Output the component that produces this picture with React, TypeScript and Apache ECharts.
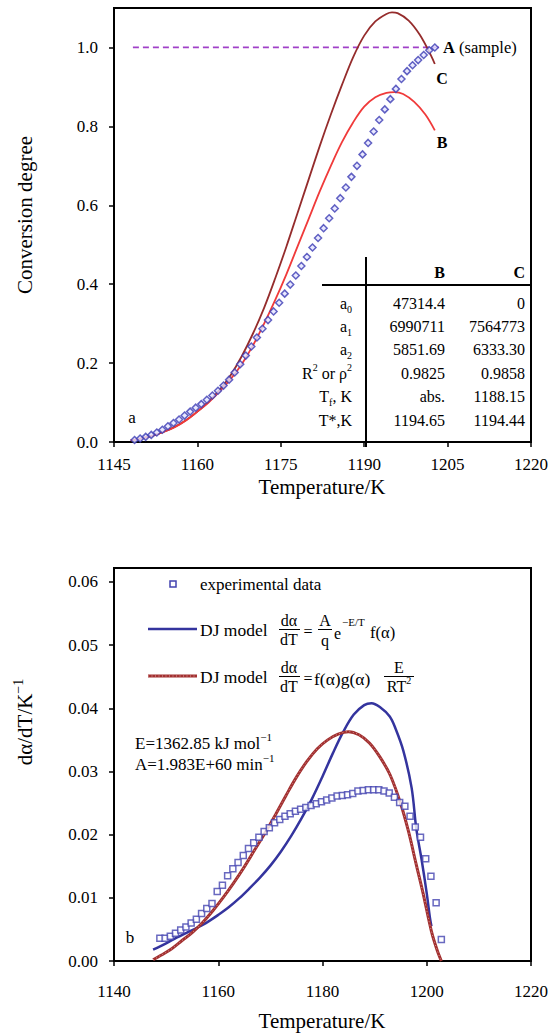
import React, { useEffect, useRef } from 'react';
import * as echarts from 'echarts';

// ---------- top panel (a) ----------
const topTicksX = [1145, 1160, 1175, 1190, 1205, 1220];
const topTicksY = [0, 0.2, 0.4, 0.6, 0.8, 1.0];

const sampleT = [1148.7, 1149.7, 1150.7, 1151.7, 1152.7, 1153.7, 1154.7, 1155.7, 1156.7, 1157.7,
  1158.7, 1159.7, 1160.7, 1161.7, 1162.7, 1163.7, 1164.7, 1165.7, 1166.7, 1167.7,
  1168.7, 1169.7, 1170.7, 1171.7, 1172.7, 1173.7, 1174.7, 1175.7, 1176.7, 1177.7,
  1178.7, 1179.7, 1180.7, 1181.7, 1182.7, 1183.7, 1184.7, 1185.7, 1186.7, 1187.7,
  1188.7, 1189.7, 1190.7, 1191.7, 1192.7, 1193.7, 1194.7, 1195.7, 1196.7, 1197.7,
  1198.7, 1199.7, 1200.7, 1201.7, 1202.7];
const sampleAlpha = [0.005, 0.009, 0.013, 0.018, 0.024, 0.031, 0.04, 0.048, 0.057, 0.067,
  0.077, 0.087, 0.096, 0.107, 0.118, 0.13, 0.143, 0.158, 0.176, 0.197,
  0.219, 0.242, 0.265, 0.287, 0.309, 0.331, 0.353, 0.376, 0.399, 0.422,
  0.446, 0.469, 0.493, 0.517, 0.542, 0.567, 0.592, 0.618, 0.645, 0.672,
  0.70, 0.729, 0.758, 0.787, 0.816, 0.843, 0.869, 0.895, 0.92, 0.94,
  0.955, 0.968, 0.981, 0.993, 1.0];

const modelBT = [1148, 1150, 1152, 1154, 1156, 1158, 1160, 1162, 1164, 1166, 1168, 1170, 1172, 1174,
  1176, 1178, 1180, 1182, 1184, 1186, 1188, 1190, 1192, 1194, 1195.5, 1197, 1199, 1201, 1202.7];
const modelB = [0.004, 0.009, 0.016, 0.026, 0.038, 0.055, 0.077, 0.1, 0.128, 0.16, 0.198, 0.245, 0.3, 0.36,
  0.425, 0.495, 0.565, 0.635, 0.70, 0.76, 0.81, 0.85, 0.874, 0.885, 0.887, 0.882, 0.862, 0.83, 0.79];

const modelCT = [1148, 1150, 1152, 1154, 1156, 1158, 1160, 1162, 1164, 1166, 1168, 1170, 1172, 1174,
  1176, 1178, 1180, 1182, 1184, 1186, 1188, 1190, 1192, 1194, 1195, 1196, 1198, 1200, 1202, 1202.7];
const modelC = [0.004, 0.009, 0.016, 0.026, 0.039, 0.056, 0.077, 0.102, 0.132, 0.17, 0.218, 0.275, 0.34, 0.415,
  0.495, 0.58, 0.665, 0.75, 0.83, 0.905, 0.975, 1.03, 1.066, 1.085, 1.089, 1.087, 1.068, 1.032, 0.98, 0.958];

const refLineT = [1148.4, 1203.6];
const refLineAlpha = [1.0, 1.0];

const tableHeader = ['B', 'C'];
const tableRowLabels = ['{m|a}{sub|0}', '{m|a}{sub|1}', '{m|a}{sub|2}', '{m|R}{sup|2}{m| or ρ}{sup|2}', '{m|T}{sub|f}{m|, K}', '{m|T*,K}'];
const tableColB = ['47314.4', '6990711', '5851.69', '0.9825', 'abs.', '1194.65'];
const tableColC = ['0', '7564773', '6333.30', '0.9858', '1188.15', '1194.44'];

// ---------- bottom panel (b) ----------
const bottomTicksX = [1140, 1160, 1180, 1200, 1220];
const bottomTicksY = [0, 0.01, 0.02, 0.03, 0.04, 0.05, 0.06];

const expT = [1148.8, 1149.8, 1150.8, 1151.8, 1152.8, 1153.8, 1154.8, 1155.8, 1156.8, 1157.8,
  1158.8, 1159.8, 1160.8, 1161.8, 1162.8, 1163.8, 1164.8, 1165.8, 1166.8, 1167.8,
  1168.8, 1169.8, 1170.8, 1171.8, 1172.8, 1173.8, 1174.8, 1175.8, 1176.8, 1177.8,
  1178.8, 1179.8, 1180.8, 1181.8, 1182.8, 1183.8, 1184.8, 1185.8, 1186.8, 1187.8,
  1188.8, 1189.8, 1190.8, 1191.8, 1192.8, 1193.8, 1194.8, 1195.8, 1196.8, 1197.8,
  1198.8, 1199.8, 1200.8, 1201.8, 1202.8];
const expRate = [0.0036, 0.0036, 0.0039, 0.0044, 0.0049, 0.0054, 0.006, 0.0066, 0.0075, 0.0083,
  0.0091, 0.011, 0.012, 0.0135, 0.0146, 0.0156, 0.0167, 0.0178, 0.0187, 0.0196,
  0.0205, 0.0211, 0.0219, 0.0224, 0.0229, 0.0233, 0.0237, 0.024, 0.0243, 0.0246,
  0.0249, 0.0252, 0.0255, 0.0258, 0.0261, 0.0262, 0.0263, 0.0265, 0.0269, 0.027,
  0.0271, 0.0271, 0.0271, 0.0269, 0.0266, 0.0259, 0.0251, 0.0245, 0.0229, 0.0212,
  0.0196, 0.0162, 0.0134, 0.0092, 0.0034];

const djAT = [1147.5, 1150, 1152, 1154, 1156, 1158, 1160, 1162, 1164, 1166, 1168, 1170, 1172, 1174, 1176,
  1178, 1180, 1182, 1184, 1186, 1188, 1189.4, 1191, 1192.9, 1194, 1195.5, 1197.1, 1198, 1199, 1200, 1200.6, 1200.9];
const djARate = [0.0018, 0.0028, 0.0037, 0.0045, 0.0053, 0.0062, 0.0073, 0.0085, 0.0099, 0.0115, 0.0132, 0.0151,
  0.0173, 0.0198, 0.0226, 0.0257, 0.0292, 0.0329, 0.0363, 0.039, 0.0405, 0.0408, 0.0402, 0.0387, 0.0368,
  0.0333, 0.0274, 0.0209, 0.0161, 0.0107, 0.0069, 0.0055];

const djBT = [1147.5, 1149, 1151, 1153, 1155, 1157, 1159, 1161, 1163, 1165, 1167, 1169, 1171, 1173, 1175, 1177,
  1179, 1181, 1183, 1185, 1187, 1189, 1191, 1193, 1195, 1196.5, 1198, 1199.3, 1200.9, 1202, 1202.8];
const djBRate = [0.0002, 0.0009, 0.0019, 0.0032, 0.0045, 0.0061, 0.008, 0.0101, 0.0124, 0.0149, 0.0176, 0.0203,
  0.0232, 0.0262, 0.0291, 0.0316, 0.0336, 0.035, 0.0359, 0.0363, 0.0358, 0.0345, 0.0323, 0.0294, 0.0249,
  0.0205, 0.0152, 0.0107, 0.0047, 0.0017, 0.0];

// ---------- helpers ----------
const F = 'Liberation Serif, serif';
const zip = (xs: number[], ys: number[]) => xs.map((x, i) => [x, ys[i]]);

const rich = (size = 17) => {
  const s = Math.round(size * 0.65);
  return {
    m: { fontFamily: F, fontSize: size, lineHeight: size + 6, fill: '#000' },
    b: { fontFamily: F, fontSize: size, lineHeight: size + 6, fontWeight: 'bold', fill: '#000' },
    sub: { fontFamily: F, fontSize: s, lineHeight: s, verticalAlign: 'bottom', fill: '#000' },
    sup: { fontFamily: F, fontSize: s, lineHeight: s, verticalAlign: 'top', fill: '#000' },
  };
};

const txt = (x: number, y: number, text: string, o: any = {}) => ({
  type: 'text',
  x,
  y,
  rotation: o.rot ?? 0,
  silent: true,
  z: 10,
  style: {
    text,
    fontFamily: F,
    fontSize: o.size ?? 17,
    fontWeight: o.bold ? 'bold' : 'normal',
    fill: '#000',
    align: o.align ?? 'left',
    verticalAlign: 'middle',
    rich: o.rich ? rich(o.size ?? 17) : undefined,
  },
});

const seg = (x1: number, y1: number, x2: number, y2: number, stroke = '#000', lineWidth = 2, extra: any = {}) => ({
  type: 'line',
  silent: true,
  z: 10,
  shape: { x1, y1, x2, y2 },
  style: { stroke, lineWidth, ...extra },
});

const axisCommon = {
  axisLine: { show: true, onZero: false, lineStyle: { color: '#000', width: 2 } },
  splitLine: { show: false },
};

const tickLabel = (margin: number, fmt: (v: number) => string, custom: number[]) => ({
  customValues: custom,
  formatter: fmt,
  fontFamily: F,
  fontSize: 17,
  color: '#000',
  margin,
});

const tick = (custom: number[]) => ({
  show: true,
  customValues: custom,
  length: 5,
  lineStyle: { color: '#000', width: 1.5 },
});

function buildGraphic() {
  const g: any[] = [];
  // axis titles
  g.push(txt(25, 215, 'Conversion degree', { size: 21, rot: Math.PI / 2, align: 'center' }));
  g.push(txt(322, 487, 'Temperature/K', { size: 21, align: 'center' }));
  g.push(txt(25, 722, '{m|dα/dT/K}{sup|−1}', { size: 21, rot: Math.PI / 2, align: 'center', rich: true }));
  g.push(txt(322, 1021, 'Temperature/K', { size: 21, align: 'center' }));

  // panel a annotations
  g.push(txt(443, 47, '{b|A}{m| (sample)}', { size: 16.5, rich: true }));
  g.push(txt(442, 78, 'C', { size: 16, bold: true, align: 'center' }));
  g.push(txt(442, 142, 'B', { size: 16, bold: true, align: 'center' }));
  g.push(txt(132, 417, 'a', { size: 17, align: 'center' }));

  // table
  g.push(seg(366, 257, 366, 447));
  g.push(seg(322, 285, 531, 285));
  g.push(txt(445, 272, tableHeader[0], { size: 16, bold: true, align: 'right' }));
  g.push(txt(525, 272, tableHeader[1], { size: 16, bold: true, align: 'right' }));
  const rowY0 = 303;
  const rowStep = 23.4;
  tableRowLabels.forEach((lab, i) => {
    const y = rowY0 + i * rowStep;
    g.push(txt(352, y, lab, { size: 16, align: 'right', rich: true }));
    g.push(txt(445, y, tableColB[i], { size: 16, align: 'right' }));
    g.push(txt(525, y, tableColC[i], { size: 16, align: 'right' }));
  });

  // panel b legend
  g.push({
    type: 'rect', silent: true, z: 10,
    shape: { x: 170, y: 581, width: 6, height: 6 },
    style: { fill: '#fff', stroke: '#4343b0', lineWidth: 1.5 },
  });
  g.push(txt(200, 584, 'experimental data', { size: 17 }));

  // row 1
  g.push(seg(148, 629, 197, 629, '#34349e', 2.5));
  g.push(txt(200, 630, 'DJ model', { size: 17.5 }));
  g.push(txt(289, 620, 'dα', { size: 16, align: 'center' }));
  g.push(txt(289, 639, 'dT', { size: 16, align: 'center' }));
  g.push(seg(279, 629.5, 300, 629.5, '#000', 1));
  g.push(txt(308, 631, '=', { size: 16, align: 'center' }));
  g.push(txt(325, 620, 'A', { size: 16, align: 'center' }));
  g.push(txt(325, 640, 'q', { size: 16, align: 'center' }));
  g.push(seg(318, 629.5, 332, 629.5, '#000', 1));
  g.push(txt(334, 633, 'e', { size: 16 }));
  g.push(txt(342, 622, '−E/T', { size: 11 }));
  g.push(txt(370, 632, 'f(α)', { size: 16.5 }));

  // row 2
  g.push(seg(148, 676, 197, 676, '#a33030', 3));
  g.push(seg(148, 676, 197, 676, 'rgba(255,255,255,0.55)', 1, { lineDash: [1, 2.5] }));
  g.push(txt(200, 677, 'DJ model', { size: 17.5 }));
  g.push(txt(289, 667, 'dα', { size: 16, align: 'center' }));
  g.push(txt(289, 686, 'dT', { size: 16, align: 'center' }));
  g.push(seg(279, 676.5, 300, 676.5, '#000', 1));
  g.push(txt(308, 678, '=', { size: 16, align: 'center' }));
  g.push(txt(314, 679, 'f(α)g(α)', { size: 17.5 }));
  g.push(txt(399, 667, 'E', { size: 16, align: 'center' }));
  g.push(txt(399, 686, '{m|RT}{sup|2}', { size: 16, align: 'center', rich: true }));
  g.push(seg(384, 676.5, 414, 676.5, '#000', 1));

  // parameters
  g.push(txt(135, 743, '{m|E=1362.85 kJ mol}{sup|−1}', { size: 17, rich: true }));
  g.push(txt(135, 764, '{m|A=1.983E+60 min}{sup|−1}', { size: 17, rich: true }));
  g.push(txt(130, 937, 'b', { size: 17, align: 'center' }));
  return g;
}

const option: any = {
  animation: false,
  backgroundColor: '#fff',
  textStyle: { fontFamily: F },
  grid: [
    { left: 114, top: 8, width: 417, height: 434, show: true, borderColor: '#000', borderWidth: 2, backgroundColor: 'transparent', outerBoundsMode: 'none' },
    { left: 114, top: 568, width: 417, height: 393, show: true, borderColor: '#000', borderWidth: 2, backgroundColor: 'transparent', outerBoundsMode: 'none' },
  ],
  xAxis: [
    {
      gridIndex: 0, type: 'value', min: 1145, max: 1220, ...axisCommon,
      axisTick: tick(topTicksX),
      axisLabel: tickLabel(14, (v: number) => String(v), topTicksX),
    },
    {
      gridIndex: 1, type: 'value', min: 1140, max: 1220, interval: 20, ...axisCommon,
      axisTick: tick(bottomTicksX),
      axisLabel: tickLabel(22, (v: number) => String(v), bottomTicksX),
    },
  ],
  yAxis: [
    {
      gridIndex: 0, type: 'value', min: 0, max: 1.1, ...axisCommon,
      axisTick: tick(topTicksY),
      axisLabel: tickLabel(16, (v: number) => v.toFixed(1), topTicksY),
    },
    {
      gridIndex: 1, type: 'value', min: 0, max: 0.0622, ...axisCommon,
      axisTick: tick(bottomTicksY),
      axisLabel: tickLabel(16, (v: number) => v.toFixed(2), bottomTicksY),
    },
  ],
  series: [
    {
      name: 'ref', type: 'line', xAxisIndex: 0, yAxisIndex: 0, data: zip(refLineT, refLineAlpha),
      symbol: 'none', lineStyle: { color: '#a040c8', width: 1.8, type: [6, 4] }, z: 2,
    },
    {
      name: 'C', type: 'line', xAxisIndex: 0, yAxisIndex: 0, data: zip(modelCT, modelC), smooth: 0.35,
      symbol: 'none', lineStyle: { color: '#952c2c', width: 1.8 }, z: 3,
    },
    {
      name: 'B', type: 'line', xAxisIndex: 0, yAxisIndex: 0, data: zip(modelBT, modelB), smooth: 0.35,
      symbol: 'none', lineStyle: { color: '#f03a3a', width: 1.8 }, z: 3,
    },
    {
      name: 'A (sample)', type: 'scatter', xAxisIndex: 0, yAxisIndex: 0, data: zip(sampleT, sampleAlpha),
      symbol: 'diamond', symbolSize: 7,
      itemStyle: { color: '#e4e4ff', borderColor: '#3b3bb4', borderWidth: 1.5 }, z: 4,
    },
    {
      name: 'DJ model 1', type: 'line', xAxisIndex: 1, yAxisIndex: 1, data: zip(djAT, djARate), smooth: 0.35,
      symbol: 'none', lineStyle: { color: '#34349e', width: 2.5 }, z: 2,
    },
    {
      name: 'DJ model 2', type: 'line', xAxisIndex: 1, yAxisIndex: 1, data: zip(djBT, djBRate), smooth: 0.35,
      symbol: 'none', lineStyle: { color: '#a33030', width: 3 }, z: 3,
    },
    {
      name: 'DJ model 2 dots', type: 'line', xAxisIndex: 1, yAxisIndex: 1, data: zip(djBT, djBRate), smooth: 0.35,
      symbol: 'none', lineStyle: { color: 'rgba(255,255,255,0.5)', width: 1, type: [1, 2.5] }, z: 3,
    },
    {
      name: 'experimental data', type: 'scatter', xAxisIndex: 1, yAxisIndex: 1, data: zip(expT, expRate),
      symbol: 'rect', symbolSize: 6,
      itemStyle: { color: '#ffffff', borderColor: '#4343b0', borderWidth: 1.5 }, z: 4,
    },
  ],
  graphic: buildGraphic(),
};

export default function App() {
  const ref = useRef<HTMLDivElement>(null);
  useEffect(() => {
    if (!ref.current) return;
    const chart = echarts.init(ref.current, null, { renderer: 'svg' });
    chart.setOption(option);
    return () => chart.dispose();
  }, []);
  return (
    <div
      ref={ref}
      style={{ position: 'absolute', left: 0, top: 0, width: 557, height: 1034, background: '#fff' }}
    />
  );
}
